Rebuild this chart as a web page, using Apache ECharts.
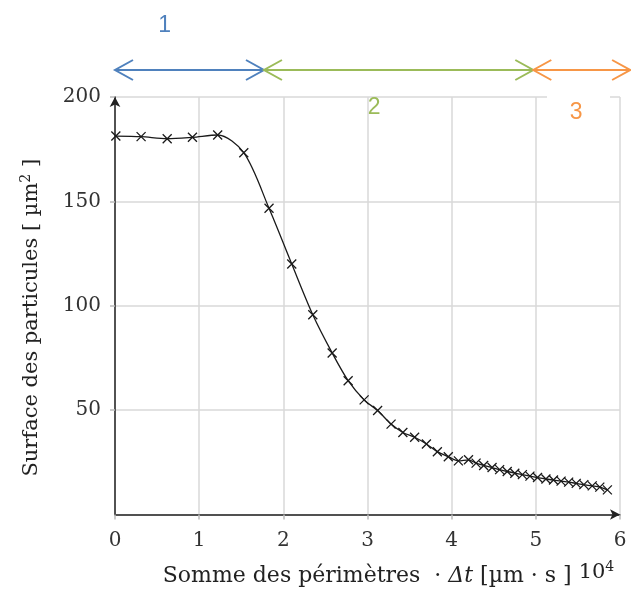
<!DOCTYPE html>
<html><head><meta charset="utf-8">
<script src="https://cdn.jsdelivr.net/npm/echarts@6/dist/echarts.min.js"></script>
<style>html,body{margin:0;padding:0;background:#fff}#c{width:631px;height:590px}</style>
</head><body><div id="c"></div>
<script>
// ---- data ----
const xValues = [0.01, 0.31, 0.62, 0.92, 1.22, 1.53, 1.83, 2.10, 2.35, 2.58, 2.77, 2.96, 3.12, 3.28, 3.42, 3.56, 3.70, 3.83, 3.96, 4.08,
  4.20, 4.29, 4.38, 4.48, 4.57, 4.66, 4.75, 4.84, 4.93, 5.02, 5.12, 5.21, 5.30, 5.39, 5.48, 5.57, 5.67, 5.76, 5.85];
const yValues = [181.3, 181.0, 180.0, 180.7, 181.8, 173.3, 146.7, 120.0, 95.7, 77.4, 64.1, 54.9, 49.8, 43.3, 39.3, 37.0, 33.8, 30.1, 27.7, 25.7,
  26.2, 24.6, 23.5, 22.5, 21.5, 20.6, 19.8, 19.1, 18.4, 17.7, 17.0, 16.5, 16.0, 15.5, 14.9, 14.3, 13.7, 13.1, 11.8];
const xTicks = [0, 1, 2, 3, 4, 5, 6];
const yTicks = [0, 50, 100, 150, 200];
const phaseNames = ['1', '2', '3'];
const phaseBounds = [0, 1.77, 4.97, 6.12];
const phaseLabelX = [0.59, 3.08, 5.48];

// ---- style ----
const phaseColors = ['#4F81BD', '#9BBB59', '#F79646'];
const phaseLabelY = [26, 108, 113];
const arrowY = 70;
const serif = 'DejaVu Serif';

const chart = echarts.init(document.getElementById('c'));
const option = {
  animation: false,
  backgroundColor: '#fff',
  grid: { left: 115, right: 11, top: 97, bottom: 75.5, containLabel: false, outerBoundsMode: 'none' },
  xAxis: {
    type: 'value', min: xTicks[0], max: xTicks[xTicks.length - 1], interval: 1,
    name: 'Somme des périmètres  · {it|Δt} [µm · s ] {up|10}{sup|4}',
    nameLocation: 'middle', nameGap: 46,
    nameTextStyle: {
      fontFamily: serif, fontSize: 22, color: '#222', padding: [0, 0, 0, 42],
      rich: {
        it: { fontFamily: serif, fontSize: 22, fontStyle: 'italic', color: '#222' },
        up: { fontFamily: serif, fontSize: 21, color: '#222', padding: [0, 0, 6, 0] },
        sup: { fontFamily: serif, fontSize: 14, color: '#222', padding: [0, 0, 17, 0] }
      }
    },
    axisLine: { show: true, onZero: false, symbol: ['none', 'arrow'], symbolSize: [8, 10], lineStyle: { color: '#222', width: 1.5 } },
    axisTick: { show: true, length: 5, lineStyle: { color: '#bbb', width: 1.5 } },
    axisLabel: { fontFamily: serif, fontSize: 20, color: '#333', margin: 16 },
    splitLine: { show: true, lineStyle: { color: '#d9d9d9', width: 1.5 } }
  },
  yAxis: {
    type: 'value', min: yTicks[0], max: yTicks[yTicks.length - 1], interval: 50,
    name: 'Surface des particules [ µm{sup|2} ]',
    nameLocation: 'middle', nameGap: 70, nameRotate: 90,
    nameTextStyle: {
      fontFamily: serif, fontSize: 21, color: '#222', padding: [0, 24, 0, 0],
      rich: { sup: { fontFamily: serif, fontSize: 14, color: '#222', padding: [0, 0, 12, 0] } }
    },
    axisLine: { show: true, onZero: false, symbol: ['none', 'arrow'], symbolSize: [8, 10], lineStyle: { color: '#222', width: 1.5 } },
    axisTick: { show: true, length: 5, lineStyle: { color: '#bbb', width: 1.5 } },
    axisLabel: { fontFamily: serif, fontSize: 20, color: '#333', margin: 14, showMinLabel: false },
    splitLine: { show: true, lineStyle: { color: '#d9d9d9', width: 1.5 } }
  },
  series: [{
    type: 'line',
    data: xValues.map((x, i) => [x, yValues[i]]),
    smooth: 0.3,
    symbol: 'path://M0,0L10,10M10,0L0,10',
    symbolSize: 9,
    lineStyle: { color: '#1a1a1a', width: 1.3 },
    itemStyle: { color: 'rgba(0,0,0,0)', borderColor: '#1a1a1a', borderWidth: 1.3 },
    z: 5
  }]
};
chart.setOption(option);

// ---- phase annotations (positions derived from the x axis scale) ----
const px = v => chart.convertToPixel({ gridIndex: 0 }, [v, 0])[0];
const graphics = [];
for (let i = 0; i < phaseNames.length; i++) {
  const x0 = px(phaseBounds[i]), x1 = px(phaseBounds[i + 1]);
  const st = { stroke: phaseColors[i], lineWidth: 2, fill: null };
  graphics.push({ type: 'line', shape: { x1: x0, y1: arrowY, x2: x1, y2: arrowY }, style: st, z: 100 });
  graphics.push({ type: 'polyline', shape: { points: [[x0 + 18, arrowY - 10], [x0, arrowY], [x0 + 18, arrowY + 10]] }, style: st, z: 100 });
  graphics.push({ type: 'polyline', shape: { points: [[x1 - 18, arrowY - 10], [x1, arrowY], [x1 - 18, arrowY + 10]] }, style: st, z: 100 });
  graphics.push({ type: 'text', x: px(phaseLabelX[i]), y: phaseLabelY[i], z: 101,
    style: { text: phaseNames[i], fill: phaseColors[i], font: '23px "Liberation Sans", sans-serif', textAlign: 'center', textVerticalAlign: 'middle' } });
}
// white box behind label 3 interrupting the top grid line
graphics.unshift({ type: 'rect', shape: { x: 547, y: 94, width: 63, height: 30 }, style: { fill: '#fff' }, z: 99 });
chart.setOption({ graphic: graphics });
</script>
</body></html>
